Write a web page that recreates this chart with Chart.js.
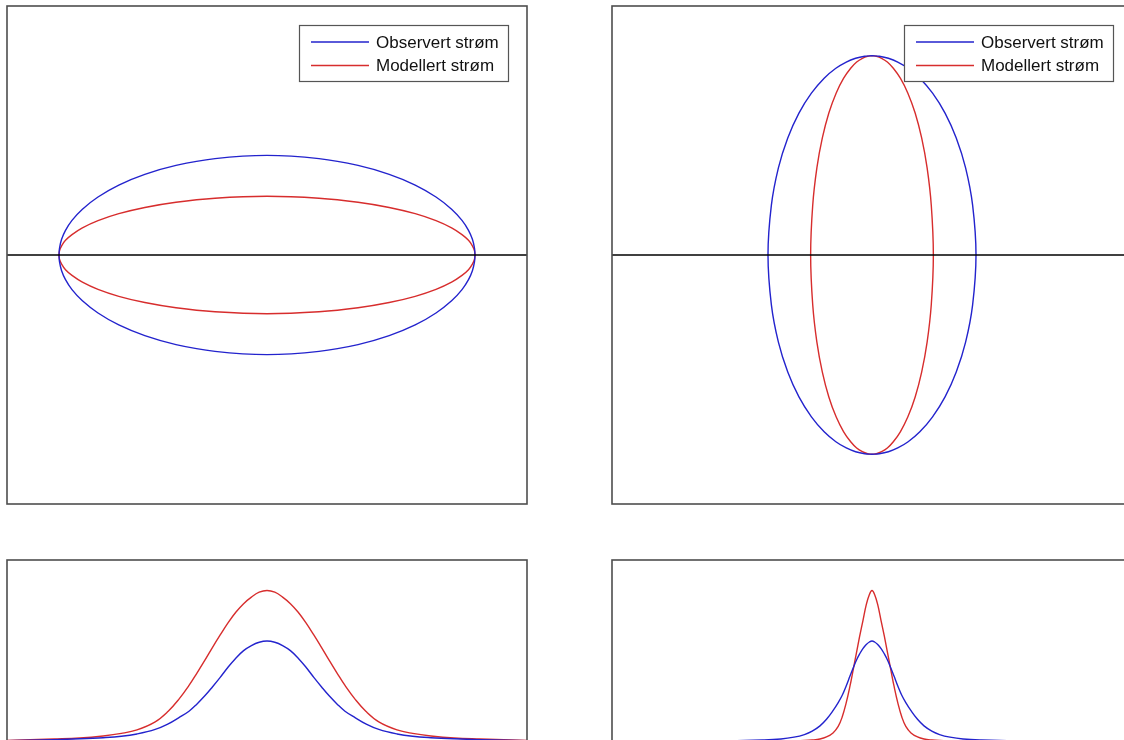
<!DOCTYPE html>
<html><head><meta charset="utf-8">
<script src="https://cdn.jsdelivr.net/npm/chart.js@4.4.0/dist/chart.umd.min.js"></script>
<style>
html,body{margin:0;padding:0;background:#fff;overflow:hidden;width:1124px;height:740px;position:relative}
canvas{position:absolute}
</style></head><body>
<canvas id="tl" width="522" height="500" style="left:6px;top:5px"></canvas>
<canvas id="tr" width="522" height="500" style="left:611px;top:5px"></canvas>
<canvas id="bl" width="522" height="202" style="left:6px;top:559px"></canvas>
<canvas id="br" width="522" height="202" style="left:611px;top:559px"></canvas>
<script>
// ---- data ----
const seriesNames = ['Observert strøm', 'Modellert strøm'];

// Current ellipses: positions along the major axis and half-width across it
const ellipseAlong = [-0.8, -0.798, -0.79, -0.775, -0.75, -0.71, -0.65, -0.57, -0.47, -0.35, -0.2, 0,
                      0.2, 0.35, 0.47, 0.57, 0.65, 0.71, 0.75, 0.775, 0.79, 0.798, 0.8];
const observertHalfWidth = [0, 0.028, 0.063, 0.099, 0.139, 0.184, 0.233, 0.281, 0.324, 0.360, 0.387, 0.400,
                            0.387, 0.360, 0.324, 0.281, 0.233, 0.184, 0.139, 0.099, 0.063, 0.028, 0];
const modellertHalfWidth = [0, 0.017, 0.037, 0.059, 0.082, 0.109, 0.138, 0.166, 0.191, 0.212, 0.228, 0.236,
                            0.228, 0.212, 0.191, 0.166, 0.138, 0.109, 0.082, 0.059, 0.037, 0.017, 0];

// Lower-left profile
const profileLeftX = [-1, -0.82, -0.72, -0.63, -0.56, -0.5, -0.43, -0.38, -0.34, -0.3, -0.27, -0.24, -0.21, -0.18, -0.15, -0.12, -0.09, -0.06, -0.03, 0,
                      0.03, 0.06, 0.09, 0.12, 0.15, 0.18, 0.21, 0.24, 0.27, 0.3, 0.34, 0.38, 0.43, 0.5, 0.56, 0.63, 0.72, 0.82, 1];
const profileLeftObservert = [0.013, 0.024, 0.032, 0.043, 0.057, 0.08, 0.125, 0.18, 0.24, 0.305, 0.375, 0.455, 0.545, 0.64, 0.74, 0.83, 0.905, 0.955, 0.988, 1.00,
                              0.988, 0.955, 0.905, 0.83, 0.74, 0.64, 0.545, 0.455, 0.375, 0.305, 0.24, 0.18, 0.125, 0.08, 0.057, 0.043, 0.032, 0.024, 0.013];
const profileLeftModellert = [0.015, 0.03, 0.04, 0.06, 0.085, 0.12, 0.2, 0.305, 0.42, 0.56, 0.68, 0.805, 0.935, 1.06, 1.18, 1.285, 1.37, 1.435, 1.483, 1.50,
                              1.483, 1.435, 1.37, 1.285, 1.18, 1.06, 0.935, 0.805, 0.68, 0.56, 0.42, 0.305, 0.2, 0.12, 0.085, 0.06, 0.04, 0.03, 0.015];

// Lower-right profile
const profileRightX = [-1, -0.55, -0.42, -0.35, -0.3, -0.26, -0.23, -0.2, -0.175, -0.15, -0.13, -0.115, -0.1, -0.085, -0.072, -0.06, -0.048, -0.035, -0.022, -0.01, 0,
                       0.01, 0.022, 0.035, 0.048, 0.06, 0.072, 0.085, 0.1, 0.115, 0.13, 0.15, 0.175, 0.2, 0.23, 0.26, 0.3, 0.35, 0.42, 0.55, 1];
const profileRightObservert = [0.005, 0.012, 0.02, 0.03, 0.048, 0.074, 0.108, 0.16, 0.225, 0.31, 0.39, 0.46, 0.55, 0.65, 0.735, 0.81, 0.87, 0.925, 0.965, 0.99, 1.00,
                               0.99, 0.965, 0.925, 0.87, 0.81, 0.735, 0.65, 0.55, 0.46, 0.39, 0.31, 0.225, 0.16, 0.108, 0.074, 0.048, 0.03, 0.02, 0.012, 0.005];
const profileRightModellert = [0.003, 0.005, 0.008, 0.01, 0.012, 0.015, 0.02, 0.03, 0.05, 0.09, 0.155, 0.245, 0.38, 0.55, 0.72, 0.88, 1.04, 1.20, 1.36, 1.46, 1.50,
                               1.46, 1.36, 1.20, 1.04, 0.88, 0.72, 0.55, 0.38, 0.245, 0.155, 0.09, 0.05, 0.03, 0.02, 0.015, 0.012, 0.01, 0.008, 0.005, 0.003];

const zeroLineX = [-1, 1];
const zeroLineY = [0, 0];

// ---- styles ----
const BLUE = 'rgb(35,35,205)';
const RED = 'rgb(215,45,45)';
const LW = 1.4;

// ---- plugins ----
const frame = {
  id: 'frame',
  afterDraw(chart) {
    const a = chart.chartArea, ctx = chart.ctx;
    ctx.save();
    ctx.strokeStyle = '#4e4e4e';
    ctx.lineWidth = 1.6;
    ctx.strokeRect(a.left, a.top, a.right - a.left, a.bottom - a.top);
    ctx.restore();
  }
};
const boxLegend = {
  id: 'boxLegend',
  afterDatasetsDraw(chart, args, o) {
    if (!o || !o.show) return;
    const ctx = chart.ctx, a = chart.chartArea;
    const x = Math.round(a.left + o.offsetX), y = Math.round(a.top + o.offsetY);
    ctx.save();
    ctx.fillStyle = '#fff';
    ctx.fillRect(x, y, o.width, o.height);
    ctx.strokeStyle = '#555';
    ctx.lineWidth = 1.2;
    ctx.strokeRect(x + 0.5, y + 0.5, o.width, o.height);
    const entries = chart.data.datasets.filter(d => d.legendEntry);
    entries.forEach((d, i) => {
      const ly = y + o.firstRow + i * o.rowGap;
      ctx.strokeStyle = d.borderColor;
      ctx.lineWidth = d.borderWidth;
      ctx.beginPath();
      ctx.moveTo(x + o.lineStart, ly);
      ctx.lineTo(x + o.lineEnd, ly);
      ctx.stroke();
      ctx.fillStyle = '#111';
      ctx.font = o.font;
      ctx.textBaseline = 'middle';
      ctx.fillText(d.label, x + o.textX, ly + 1);
    });
    ctx.restore();
  }
};

function pts(xs, ys) { return xs.map((x, i) => ({x: x, y: ys[i]})); }
function neg(arr) { return arr.map(v => -v); }

function lineDs(label, data, color, extra) {
  return Object.assign({
    label: label, data: data, showLine: true, borderColor: color, backgroundColor: color,
    borderWidth: LW, pointRadius: 0, pointHoverRadius: 0, fill: false, tension: 0.4
  }, extra || {});
}

function baseOptions(yMin, yMax, legend) {
  return {
    responsive: false, animation: false, devicePixelRatio: 1,
    layout: {padding: 1},
    events: [],
    scales: {
      x: {type: 'linear', min: -1, max: 1, display: false},
      y: {type: 'linear', min: yMin, max: yMax, display: false}
    },
    plugins: {
      legend: {display: false}, tooltip: {enabled: false},
      boxLegend: legend ? {
        show: true, offsetX: 292, offsetY: 19, width: 209, height: 56,
        firstRow: 17, rowGap: 23.5, lineStart: 12, lineEnd: 70, textX: 77,
        font: '17px "Liberation Sans", Arial, sans-serif'
      } : {show: false}
    }
  };
}

// Top-left: ellipses along x
new Chart(document.getElementById('tl'), {
  type: 'scatter',
  data: {datasets: [
    lineDs('zero', pts(zeroLineX, zeroLineY), '#000', {borderWidth: 1.3, tension: 0}),
    lineDs(seriesNames[0], pts(ellipseAlong, observertHalfWidth), BLUE, {legendEntry: true}),
    lineDs(seriesNames[0], pts(ellipseAlong, neg(observertHalfWidth)), BLUE),
    lineDs(seriesNames[1], pts(ellipseAlong, modellertHalfWidth), RED, {legendEntry: true}),
    lineDs(seriesNames[1], pts(ellipseAlong, neg(modellertHalfWidth)), RED)
  ]},
  options: baseOptions(-1, 1, true),
  plugins: [boxLegend, frame]
});

// Top-right: ellipses along y
new Chart(document.getElementById('tr'), {
  type: 'scatter',
  data: {datasets: [
    lineDs('zero', pts(zeroLineX, zeroLineY), '#000', {borderWidth: 1.3, tension: 0}),
    lineDs(seriesNames[0], pts(observertHalfWidth, ellipseAlong), BLUE, {legendEntry: true}),
    lineDs(seriesNames[0], pts(neg(observertHalfWidth), ellipseAlong), BLUE),
    lineDs(seriesNames[1], pts(modellertHalfWidth, ellipseAlong), RED, {legendEntry: true}),
    lineDs(seriesNames[1], pts(neg(modellertHalfWidth), ellipseAlong), RED)
  ]},
  options: baseOptions(-1, 1, true),
  plugins: [boxLegend, frame]
});

// Bottom-left profile
new Chart(document.getElementById('bl'), {
  type: 'scatter',
  data: {datasets: [
    lineDs(seriesNames[0], pts(profileLeftX, profileLeftObservert), BLUE),
    lineDs(seriesNames[1], pts(profileLeftX, profileLeftModellert), RED)
  ]},
  options: baseOptions(-0.178, 1.802, false),
  plugins: [frame]
});

// Bottom-right profile
new Chart(document.getElementById('br'), {
  type: 'scatter',
  data: {datasets: [
    lineDs(seriesNames[0], pts(profileRightX, profileRightObservert), BLUE),
    lineDs(seriesNames[1], pts(profileRightX, profileRightModellert), RED)
  ]},
  options: baseOptions(-0.178, 1.802, false),
  plugins: [frame]
});
</script>
</body></html>
